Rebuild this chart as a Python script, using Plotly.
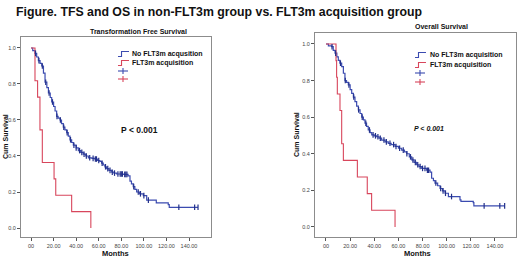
import numpy as np
import plotly.graph_objects as go

W, H = 520, 260

# ---------------- data ----------------
# Transformation Free Survival (TFS)
tfs_no_t = [0, 1.5, 3.5, 5, 6.5, 8, 9.5, 11, 12.4, 14, 15.4, 17, 18.3, 20, 21.3, 22.7, 24, 25.7,
            27, 28.6, 30, 31.6, 33, 34.5, 36, 37.5, 40, 41.9, 44, 46.3, 48.5, 50.8, 54, 56.7,
            59, 61, 62.5, 64, 65.5, 67, 69, 71.5, 73.5, 75.9, 82, 86, 87.7, 89, 90.6, 92, 93.6,
            96, 99.5, 102.5, 111, 121.6, 122.5]
tfs_no_s = [1.0, 0.985, 0.97, 0.95, 0.93, 0.915, 0.90, 0.86, 0.81, 0.78, 0.75, 0.725, 0.70, 0.675,
            0.65, 0.62, 0.61, 0.60, 0.58, 0.56, 0.545, 0.53, 0.51, 0.49, 0.475, 0.46, 0.445, 0.43,
            0.42, 0.41, 0.40, 0.39, 0.387, 0.383, 0.375, 0.37, 0.36, 0.35, 0.34, 0.33, 0.32, 0.31,
            0.305, 0.30, 0.298, 0.29, 0.26, 0.245, 0.23, 0.215, 0.20, 0.19, 0.18, 0.155, 0.14,
            0.13, 0.115]
tfs_no_cens = [4, 7, 10, 13, 16, 19, 23, 26, 29, 32, 35, 38, 40, 43, 45, 47, 49, 52, 55, 57, 58,
               60, 63, 66, 68, 70, 72, 74, 77, 79, 80, 81, 83, 84, 85, 91, 95, 97, 100, 104,
               131, 145, 148]
tfs_acq_t = [0, 3.5, 5.8, 7.9, 10, 20.4, 21.9, 36, 53]
tfs_acq_s = [1.0, 0.818, 0.727, 0.545, 0.364, 0.273, 0.182, 0.091, 0.0]

# Overall Survival (OS)
os_no_t = [0, 2, 4.7, 6, 7.5, 9, 10.2, 11.5, 13, 14.4, 15.7, 17, 18.5, 20, 21.3, 22.7, 24, 25.4,
           26.8, 28.2, 29.6, 31, 32.3, 33.6, 35, 36.5, 37.9, 40, 42, 44, 46.1, 49, 51.6, 54, 57.2,
           60, 62.7, 65, 66.9, 69, 71, 73, 75.1, 77, 79.3, 83.4, 86.2, 87.5, 89, 90.3, 92.5, 94.5,
           96.5, 98.6, 101.4, 111, 111.8, 122, 122.5]
os_no_s = [1.0, 0.99, 0.985, 0.965, 0.95, 0.93, 0.91, 0.895, 0.876, 0.84, 0.80, 0.79, 0.776,
           0.75, 0.73, 0.71, 0.685, 0.66, 0.64, 0.62, 0.60, 0.585, 0.567, 0.55, 0.53, 0.515,
           0.503, 0.498, 0.493, 0.485, 0.475, 0.465, 0.457, 0.45, 0.44, 0.43, 0.42, 0.41, 0.40,
           0.383, 0.366, 0.353, 0.34, 0.33, 0.32, 0.31, 0.30, 0.266, 0.253, 0.24, 0.225, 0.21,
           0.197, 0.184, 0.166, 0.148, 0.14, 0.133, 0.115]
os_no_cens = [5, 8, 12, 16, 19, 23, 27, 30, 33, 36, 39, 41, 43, 45, 48, 50, 53, 56, 58, 61, 64,
              67, 70, 72, 74, 76, 78, 80, 82, 84, 85, 91, 95, 97, 99, 104, 131, 144, 148]
os_acq_t = [0, 8.3, 8.8, 9.4, 11.6, 13, 14.4, 26, 34.2, 37.8, 57.2]
os_acq_s = [1.0, 0.909, 0.818, 0.727, 0.636, 0.455, 0.364, 0.273, 0.182, 0.091, 0.0]

x_ticks = [0, 20, 40, 60, 80, 100, 120, 140]
x_tick_labels = ["00", "20.00", "40.00", "60.00", "80.00", "100.00", "120.00", "140.00"]
y_ticks = [0.0, 0.2, 0.4, 0.6, 0.8, 1.0]
y_tick_labels = ["0.0", "0.2", "0.4", "0.6", "0.8", "1.0"]

# ---------------- styling ----------------
BLUE = "#3b4bb0"
BLUE_DARK = "#22308a"
RED = "#d8465c"
FONT = "Liberation Sans"


def px(x):
    return x / W


def py(y):
    return 1 - y / H


def step_value(t_knots, s_knots, t):
    idx = np.searchsorted(np.asarray(t_knots), np.asarray(t), side="right") - 1
    return np.asarray(s_knots)[idx]


fig = go.Figure()


def add_panel(t_no, s_no, cens, t_acq, s_acq, xa, ya):
    end_t = max(cens)
    tt = list(t_no) + [end_t]
    ss = list(s_no) + [s_no[-1]]
    fig.add_trace(go.Scatter(x=tt, y=ss, mode="lines", line=dict(color=BLUE, width=1.2, shape="hv"),
                             xaxis=xa, yaxis=ya, showlegend=False, hoverinfo="skip"))
    fig.add_trace(go.Scatter(x=t_acq, y=s_acq, mode="lines", line=dict(color=RED, width=1.1, shape="hv"),
                             xaxis=xa, yaxis=ya, showlegend=False, hoverinfo="skip"))
    fig.add_trace(go.Scatter(x=cens, y=step_value(t_no, s_no, cens), mode="markers",
                             marker=dict(symbol="line-ns", size=4, line=dict(color=BLUE_DARK, width=1.2)),
                             xaxis=xa, yaxis=ya, showlegend=False, hoverinfo="skip"))


add_panel(tfs_no_t, tfs_no_s, tfs_no_cens, tfs_acq_t, tfs_acq_s, "x", "y")
add_panel(os_no_t, os_no_s, os_no_cens, os_acq_t, os_acq_s, "x2", "y2")

axis_common = dict(showline=True, mirror=True, linecolor="#8c8c8c", linewidth=1, showgrid=False,
                   zeroline=False, ticks="outside", ticklen=3, tickcolor="#555",
                   tickfont=dict(family=FONT, size=5.5, color="#444"))

fig.update_layout(
    width=W, height=H, margin=dict(l=0, r=0, t=0, b=0),
    paper_bgcolor="white", plot_bgcolor="white", showlegend=False,
    xaxis=dict(domain=[px(21), px(211)], range=[-8.9, 159.5], tickvals=x_ticks, ticktext=x_tick_labels,
               anchor="y", **axis_common),
    yaxis=dict(domain=[py(237), py(37)], range=[-0.05, 1.061], tickvals=y_ticks, ticktext=y_tick_labels,
               anchor="x", **axis_common),
    xaxis2=dict(domain=[px(315), px(516)], range=[-9.1, 157.4], tickvals=x_ticks, ticktext=x_tick_labels,
                anchor="y2", **axis_common),
    yaxis2=dict(domain=[py(237), py(33)], range=[-0.055, 1.06], tickvals=y_ticks, ticktext=y_tick_labels,
                anchor="x2", **axis_common),
)

ann = []


def text(x, y, s, size, bold=True, italic=False, anchor="center", angle=0, color="#111"):
    t = s
    if bold:
        t = "<b>" + t + "</b>"
    if italic:
        t = "<i>" + t + "</i>"
    ann.append(dict(x=px(x), y=py(y), xref="paper", yref="paper", text=t, showarrow=False,
                    xanchor=anchor, yanchor="middle", textangle=angle,
                    font=dict(family=FONT, size=size, color=color)))


text(14, 12, "Figure. TFS and OS in non-FLT3m group vs. FLT3m acquisition group", 12.3, anchor="left")
text(138, 31, "Transformation Free Survival", 7)
text(441, 27, "Overall Survival", 7)
text(5, 137, "Cum Survival", 7, angle=-90)
text(296, 135, "Cum Survival", 7, angle=-90)
text(115, 253, "Months", 7.5)
text(417, 253, "Months", 7.5)
text(139, 130, "P &lt; 0.001", 8.5)
text(429, 128, "P &lt; 0.001", 7, italic=True)

# legends
text(130, 54, "No FLT3m acqusition", 7, anchor="left")
text(130, 63, "FLT3m acquisition", 7, anchor="left")
text(428, 55, "No FLT3m acquisition", 7, anchor="left")
text(428, 65, "FLT3m acquisition", 7, anchor="left")

shapes = []


def step_glyph(x0, yc, color):
    path = "M {:.4f},{:.4f} L {:.4f},{:.4f} L {:.4f},{:.4f} L {:.4f},{:.4f}".format(
        px(x0), py(yc + 2.5), px(x0 + 3.5), py(yc + 2.5), px(x0 + 3.5), py(yc - 2.5), px(x0 + 11), py(yc - 2.5))
    shapes.append(dict(type="path", path=path, xref="paper", yref="paper", line=dict(color=color, width=1.1)))


def plus_glyph(x0, yc, color):
    shapes.append(dict(type="line", x0=px(x0), x1=px(x0 + 10), y0=py(yc), y1=py(yc), xref="paper", yref="paper",
                       line=dict(color=color, width=1.1)))
    shapes.append(dict(type="line", x0=px(x0 + 5), x1=px(x0 + 5), y0=py(yc - 3), y1=py(yc + 3), xref="paper",
                       yref="paper", line=dict(color=color, width=1.1)))


step_glyph(118, 54, BLUE)
step_glyph(118, 63, RED)
plus_glyph(118, 71, BLUE)
plus_glyph(118, 79, RED)
step_glyph(415, 55, BLUE)
step_glyph(415, 65, RED)
plus_glyph(415, 73, BLUE)
plus_glyph(415, 82, RED)

fig.update_layout(annotations=ann, shapes=shapes)
fig.write_html("out.html", config={"displayModeBar": False, "staticPlot": True},
               post_script="document.body.style.margin='0px';document.body.style.overflow='hidden';")
